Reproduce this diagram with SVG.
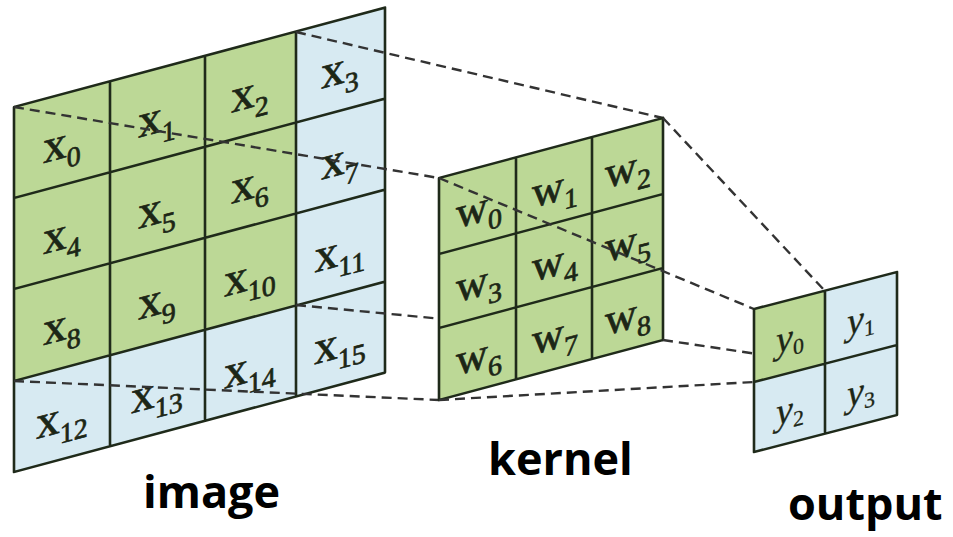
<svg xmlns="http://www.w3.org/2000/svg" width="953" height="537" viewBox="0 0 953 537">
  <style>
    .g { fill: #bcd896; }
    .b { fill: #d7eaf2; }
    .grid { fill: none; stroke: #1f2a1a; stroke-width: 2.6; stroke-linejoin: round; }
    .dash { fill: none; stroke: #333; stroke-width: 2.4; stroke-dasharray: 10 6; }
    .lx { font-family: "Liberation Serif", "Times New Roman", serif; font-size: 47px; fill: #1c2616; stroke: #1c2616; stroke-width: 0.7; text-anchor: middle; }
    .lw { font-family: "Liberation Serif", "Times New Roman", serif; font-size: 44px; fill: #1c2616; stroke: #1c2616; stroke-width: 0.7; text-anchor: middle; }
    .ly { font-family: "Liberation Serif", "Times New Roman", serif; font-size: 38px; font-style: italic; fill: #1c2616; stroke: #1c2616; stroke-width: 0.3; text-anchor: middle; }
    .sub { font-size: 28px; }
    .suby { font-size: 22px; font-style: normal; }
    .cap { font-family: "Open Sans", "Liberation Sans", sans-serif; font-weight: bold; font-size: 45px; fill: #000; }
  </style>

  <!-- input image: 4x4 grid -->
  <g id="image" transform="translate(14,107) skewY(-15)">
    <rect class="g" x="0" y="0" width="282" height="274"/>
    <rect class="b" x="282" y="0" width="89" height="365"/>
    <rect class="b" x="0" y="274" width="282" height="91"/>
    <path class="grid" d="M0 0H371V365H0Z M96 0V365 M191 0V365 M282 0V365 M0 91H371 M0 182H371 M0 274H371"/>
    <g class="lx">
      <text x="48" y="64">x<tspan class="sub" dy="11">0</tspan></text>
      <text x="143" y="64">x<tspan class="sub" dy="11">1</tspan></text>
      <text x="236" y="64">x<tspan class="sub" dy="11">2</tspan></text>
      <text x="326" y="64">x<tspan class="sub" dy="11">3</tspan></text>
      <text x="48" y="155">x<tspan class="sub" dy="11">4</tspan></text>
      <text x="143" y="155">x<tspan class="sub" dy="11">5</tspan></text>
      <text x="236" y="155">x<tspan class="sub" dy="11">6</tspan></text>
      <text x="326" y="155">x<tspan class="sub" dy="11">7</tspan></text>
      <text x="48" y="246">x<tspan class="sub" dy="11">8</tspan></text>
      <text x="143" y="246">x<tspan class="sub" dy="11">9</tspan></text>
      <text x="236" y="246">x<tspan class="sub" dy="11">10</tspan></text>
      <text x="326" y="246">x<tspan class="sub" dy="11">11</tspan></text>
      <text x="48" y="338">x<tspan class="sub" dy="11">12</tspan></text>
      <text x="143" y="338">x<tspan class="sub" dy="11">13</tspan></text>
      <text x="236" y="338">x<tspan class="sub" dy="11">14</tspan></text>
      <text x="326" y="338">x<tspan class="sub" dy="11">15</tspan></text>
    </g>
  </g>

  <!-- projection lines from the 3x3 window onto the kernel -->
  <g id="connectors-image-kernel">
    <line class="dash" x1="14" y1="107" x2="439" y2="178"/>
    <line class="dash" x1="296" y1="32" x2="663" y2="118"/>
    <line class="dash" x1="14" y1="381" x2="439" y2="400"/>
    <line class="dash" x1="296" y1="305" x2="663" y2="340"/>
  </g>

  <!-- kernel: 3x3 grid -->
  <g id="kernel" transform="translate(439,178) skewY(-15)">
    <rect class="g" x="0" y="0" width="224" height="222"/>
    <path class="grid" d="M0 0H224V222H0Z M77 0V222 M153 0V222 M0 76H224 M0 150H224"/>
    <g class="lw">
      <text x="40" y="55">w<tspan class="sub" dy="10">0</tspan></text>
      <text x="116" y="55">w<tspan class="sub" dy="10">1</tspan></text>
      <text x="189" y="55">w<tspan class="sub" dy="10">2</tspan></text>
      <text x="40" y="129">w<tspan class="sub" dy="10">3</tspan></text>
      <text x="116" y="129">w<tspan class="sub" dy="10">4</tspan></text>
      <text x="189" y="129">w<tspan class="sub" dy="10">5</tspan></text>
      <text x="40" y="202">w<tspan class="sub" dy="10">6</tspan></text>
      <text x="116" y="202">w<tspan class="sub" dy="10">7</tspan></text>
      <text x="189" y="202">w<tspan class="sub" dy="10">8</tspan></text>
    </g>
  </g>

  <!-- projection lines from the kernel onto the output cell -->
  <g id="connectors-kernel-output">
    <line class="dash" x1="439" y1="178" x2="754" y2="309"/>
    <line class="dash" x1="663" y1="118" x2="825" y2="291"/>
    <line class="dash" x1="439" y1="400" x2="754" y2="382"/>
    <line class="dash" x1="663" y1="340" x2="825" y2="364"/>
  </g>

  <!-- output: 2x2 grid -->
  <g id="output" transform="translate(754,309) skewY(-14.5)">
    <rect class="b" x="0" y="0" width="143" height="143"/>
    <rect class="g" x="0" y="0" width="71" height="73"/>
    <path class="grid" d="M0 0H143V143H0Z M71 0V143 M0 73H143"/>
    <g class="ly">
      <text x="36" y="50">y<tspan class="suby" dy="6">0</tspan></text>
      <text x="107" y="50">y<tspan class="suby" dy="6">1</tspan></text>
      <text x="36" y="122">y<tspan class="suby" dy="6">2</tspan></text>
      <text x="107" y="122">y<tspan class="suby" dy="6">3</tspan></text>
    </g>
  </g>

  <!-- captions -->
  <g id="captions">
    <text class="cap" x="143" y="508">image</text>
    <text class="cap" x="488" y="475">kernel</text>
    <text class="cap" x="788" y="520">output</text>
  </g>
</svg>
